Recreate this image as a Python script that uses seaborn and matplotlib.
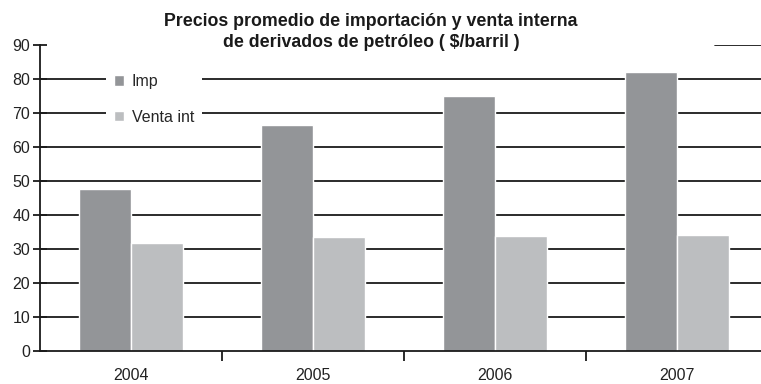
import matplotlib
matplotlib.use("Agg")
import matplotlib.pyplot as plt
import seaborn as sns
import pandas as pd
from matplotlib.ticker import FixedLocator

years = ["2004", "2005", "2006", "2007"]
imp = [47.6, 66.5, 75.0, 82.1]
venta = [31.8, 33.5, 33.8, 34.1]
series_names = ["Imp", "Venta int"]
colors = ["#939598", "#bcbec0"]
title = "Precios promedio de importación y venta interna\nde derivados de petróleo ( $/barril )"

df = pd.DataFrame({
    "year": years * 2,
    "value": imp + venta,
    "serie": [series_names[0]] * 4 + [series_names[1]] * 4,
})

sns.set_theme(style="white")
plt.rcParams["font.family"] = ["Liberation Sans", "DejaVu Sans"]

W, H = 761, 384
fig = plt.figure(figsize=(W / 100, H / 100), dpi=100)
ax = fig.add_axes([40 / W, 33 / H, 728 / W, 306 / H])

sns.barplot(data=df, x="year", y="value", hue="serie", palette=colors,
            width=0.57, gap=0, saturation=1, ax=ax, zorder=3)

ax.set_xlim(-0.5, 3.5)
ax.set_ylim(0, 90)
ax.set_yticks(range(0, 100, 10))
ax.set_xlabel("")
ax.set_ylabel("")

for s in ["top", "right"]:
    ax.spines[s].set_visible(False)
for s in ["left", "bottom"]:
    ax.spines[s].set_color("#1a1a1a")
    ax.spines[s].set_linewidth(1.3)
    ax.spines[s].set_zorder(4)

# gridlines 10..80
for v in range(10, 90, 10):
    ax.axhline(v, color="#1a1a1a", lw=1.3, zorder=1)
ax.axhline(90, xmin=(715 - 40) / 728, xmax=1, color="#1a1a1a", lw=1.3, zorder=1)

ax.tick_params(axis="y", direction="inout", length=10, width=1.3, color="#1a1a1a",
               labelsize=11.5, labelcolor="#222222", pad=2, left=True)
ax.tick_params(axis="x", which="major", length=0, labelsize=11.5, labelcolor="#222222", pad=12)
ax.xaxis.set_minor_locator(FixedLocator([0.5, 1.5, 2.5]))
ax.tick_params(axis="x", which="minor", direction="out", length=7, width=1.3,
               color="#1a1a1a", bottom=True)

leg = ax.legend(loc="upper left", bbox_to_anchor=(66 / 728, (306 - 21) / 306),
                frameon=True, fontsize=11.5, handlelength=0.65, handleheight=0.65,
                handletextpad=0.45, labelspacing=1.3, borderpad=0.5, borderaxespad=0)
leg.get_frame().set_facecolor("white")
leg.get_frame().set_edgecolor("none")
leg.get_frame().set_alpha(1)
leg.set_zorder(5)
leg.set_title(None)

fig.text(371 / W, 1 - 32 / H, title, ha="center", va="center", fontsize=12.8,
         fontweight="bold", color="#1a1a1a", linespacing=1.35)

fig.savefig("out.png", dpi=100, facecolor="white")
